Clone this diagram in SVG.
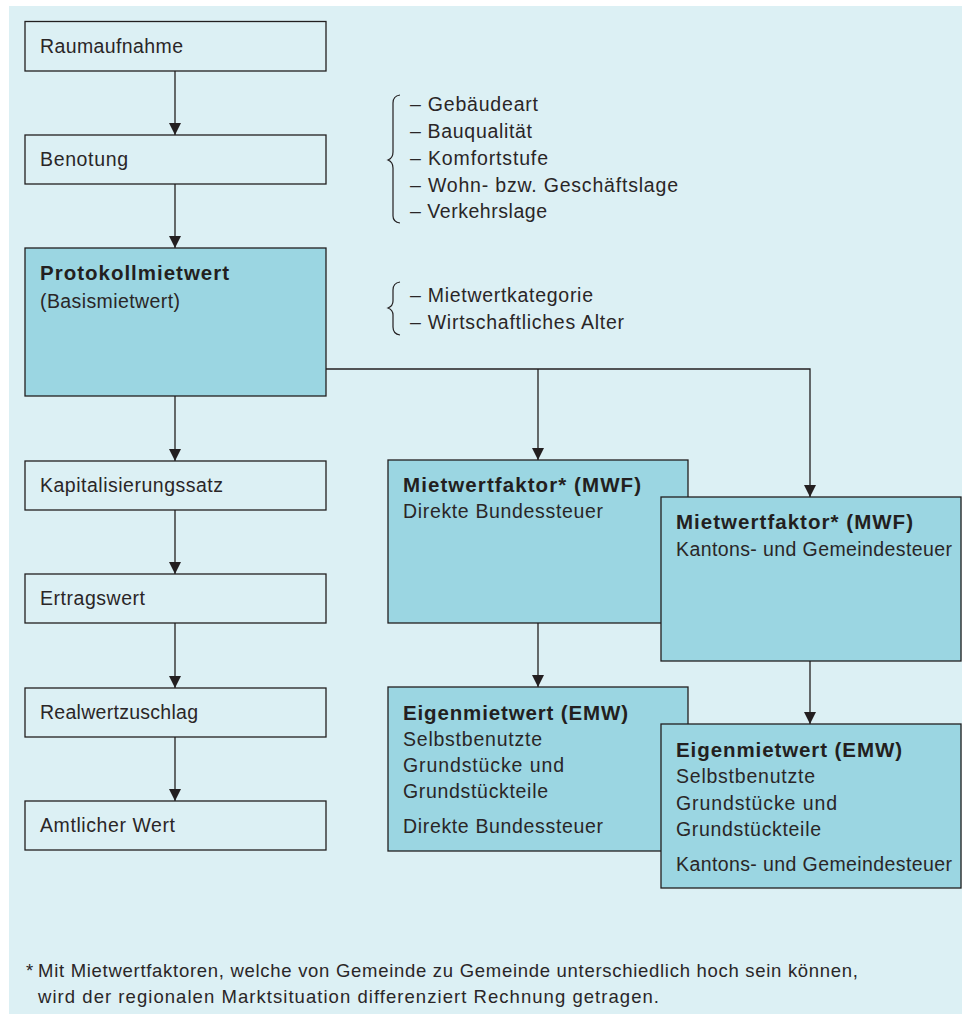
<svg xmlns="http://www.w3.org/2000/svg" width="962" height="1017" viewBox="0 0 962 1017">
<style>
.bg{fill:#dcf0f4}
.box{fill:#dcf0f4;stroke:#231f20;stroke-width:1.3}
.tbox{fill:#9bd6e2;stroke:#231f20;stroke-width:1.3}
text{font-family:"Liberation Sans",Arial,sans-serif;font-size:19.5px;fill:#2a2627}
.b{font-weight:bold;font-size:20.5px;fill:#231f20}
.f{font-size:18.5px}
.con{fill:none;stroke:#231f20;stroke-width:1.3}
.brace{fill:none;stroke:#231f20;stroke-width:1.2}
</style>
<defs>
<marker id="ah" markerWidth="12" markerHeight="12" refX="10" refY="5" orient="auto" markerUnits="userSpaceOnUse" viewBox="0 0 10 10">
<path d="M0,0 L10,5 L0,10 Z" fill="#231f20"/>
</marker>
</defs>
<rect class="bg" x="9" y="6" width="953" height="1008"/>

<g id="connectors">
<line class="con" x1="175" y1="71" x2="175" y2="135" marker-end="url(#ah)"/>
<line class="con" x1="175" y1="184" x2="175" y2="248" marker-end="url(#ah)"/>
<line class="con" x1="175" y1="396" x2="175" y2="461" marker-end="url(#ah)"/>
<line class="con" x1="175" y1="510" x2="175" y2="574" marker-end="url(#ah)"/>
<line class="con" x1="175" y1="623" x2="175" y2="688" marker-end="url(#ah)"/>
<line class="con" x1="175" y1="737" x2="175" y2="801" marker-end="url(#ah)"/>
<polyline class="con" points="326,369 810,369 810,497" marker-end="url(#ah)"/>
<line class="con" x1="538" y1="369" x2="538" y2="460" marker-end="url(#ah)"/>
<line class="con" x1="538" y1="623" x2="538" y2="687" marker-end="url(#ah)"/>
<line class="con" x1="810" y1="661" x2="810" y2="724" marker-end="url(#ah)"/>
</g>

<g id="raumaufnahme">
<rect class="box" x="25" y="21.5" width="301" height="49.5"/>
<text x="40" y="53" textLength="143">Raumaufnahme</text>
</g>
<g id="benotung">
<rect class="box" x="25" y="135" width="301" height="49"/>
<text x="40" y="166" textLength="88">Benotung</text>
</g>
<g id="protokollmietwert">
<rect class="tbox" x="25" y="248" width="301" height="148"/>
<text class="b" x="40" y="280" textLength="189">Protokollmietwert</text>
<text x="40" y="308" textLength="140">(Basismietwert)</text>
</g>
<g id="kapitalisierungssatz">
<rect class="box" x="25" y="461" width="301" height="49"/>
<text x="40" y="492" textLength="183">Kapitalisierungssatz</text>
</g>
<g id="ertragswert">
<rect class="box" x="25" y="574" width="301" height="49"/>
<text x="40" y="605" textLength="105">Ertragswert</text>
</g>
<g id="realwertzuschlag">
<rect class="box" x="25" y="688" width="301" height="49"/>
<text x="40" y="719" textLength="158">Realwertzuschlag</text>
</g>
<g id="amtlicher-wert">
<rect class="box" x="25" y="801" width="301" height="49"/>
<text x="40" y="832" textLength="135">Amtlicher Wert</text>
</g>

<g id="benotung-kriterien">
<path class="brace" d="M400,95 Q393,96 393,103 L393,152 Q393,158 388,160 Q393,162 393,168 L393,216 Q393,222 400,223"/>
<text x="410" y="111" textLength="128">– Gebäudeart</text>
<text x="410" y="138" textLength="122">– Bauqualität</text>
<text x="410" y="165" textLength="138">– Komfortstufe</text>
<text x="410" y="192" textLength="268">– Wohn- bzw. Geschäftslage</text>
<text x="410" y="218" textLength="137">– Verkehrslage</text>
</g>
<g id="protokoll-kriterien">
<path class="brace" d="M400,282 Q393,283 393,290 L393,301 Q393,306 388,308 Q393,310 393,315 L393,327 Q393,334 400,335"/>
<text x="410" y="302" textLength="183">– Mietwertkategorie</text>
<text x="410" y="329" textLength="214">– Wirtschaftliches Alter</text>
</g>

<g id="mwf-bund">
<rect class="tbox" x="388" y="460" width="300" height="163"/>
<text class="b" x="403" y="492" textLength="238">Mietwertfaktor* (MWF)</text>
<text x="403" y="518" textLength="200">Direkte Bundessteuer</text>
</g>
<g id="mwf-kanton">
<rect class="tbox" x="661" y="497" width="300" height="164"/>
<text class="b" x="676" y="529" textLength="237">Mietwertfaktor* (MWF)</text>
<text x="676" y="556" textLength="276">Kantons- und Gemeindesteuer</text>
</g>
<g id="emw-bund">
<rect class="tbox" x="388" y="687" width="300" height="164"/>
<text class="b" x="403" y="720" textLength="225">Eigenmietwert (EMW)</text>
<text x="403" y="746" textLength="139">Selbstbenutzte</text>
<text x="403" y="772" textLength="161">Grundstücke und</text>
<text x="403" y="798" textLength="145">Grundstückteile</text>
<text x="403" y="833" textLength="200">Direkte Bundessteuer</text>
</g>
<g id="emw-kanton">
<rect class="tbox" x="661" y="724" width="300" height="164"/>
<text class="b" x="676" y="757" textLength="226">Eigenmietwert (EMW)</text>
<text x="676" y="783" textLength="139">Selbstbenutzte</text>
<text x="676" y="810" textLength="161">Grundstücke und</text>
<text x="676" y="836" textLength="145">Grundstückteile</text>
<text x="676" y="871" textLength="276">Kantons- und Gemeindesteuer</text>
</g>

<g id="fussnote">
<text class="f" x="26" y="977">*</text>
<text class="f" x="38" y="977" textLength="820">Mit Mietwertfaktoren, welche von Gemeinde zu Gemeinde unterschiedlich hoch sein können,</text>
<text class="f" x="38" y="1003" textLength="621">wird der regionalen Marktsituation differenziert Rechnung getragen.</text>
</g>
</svg>
